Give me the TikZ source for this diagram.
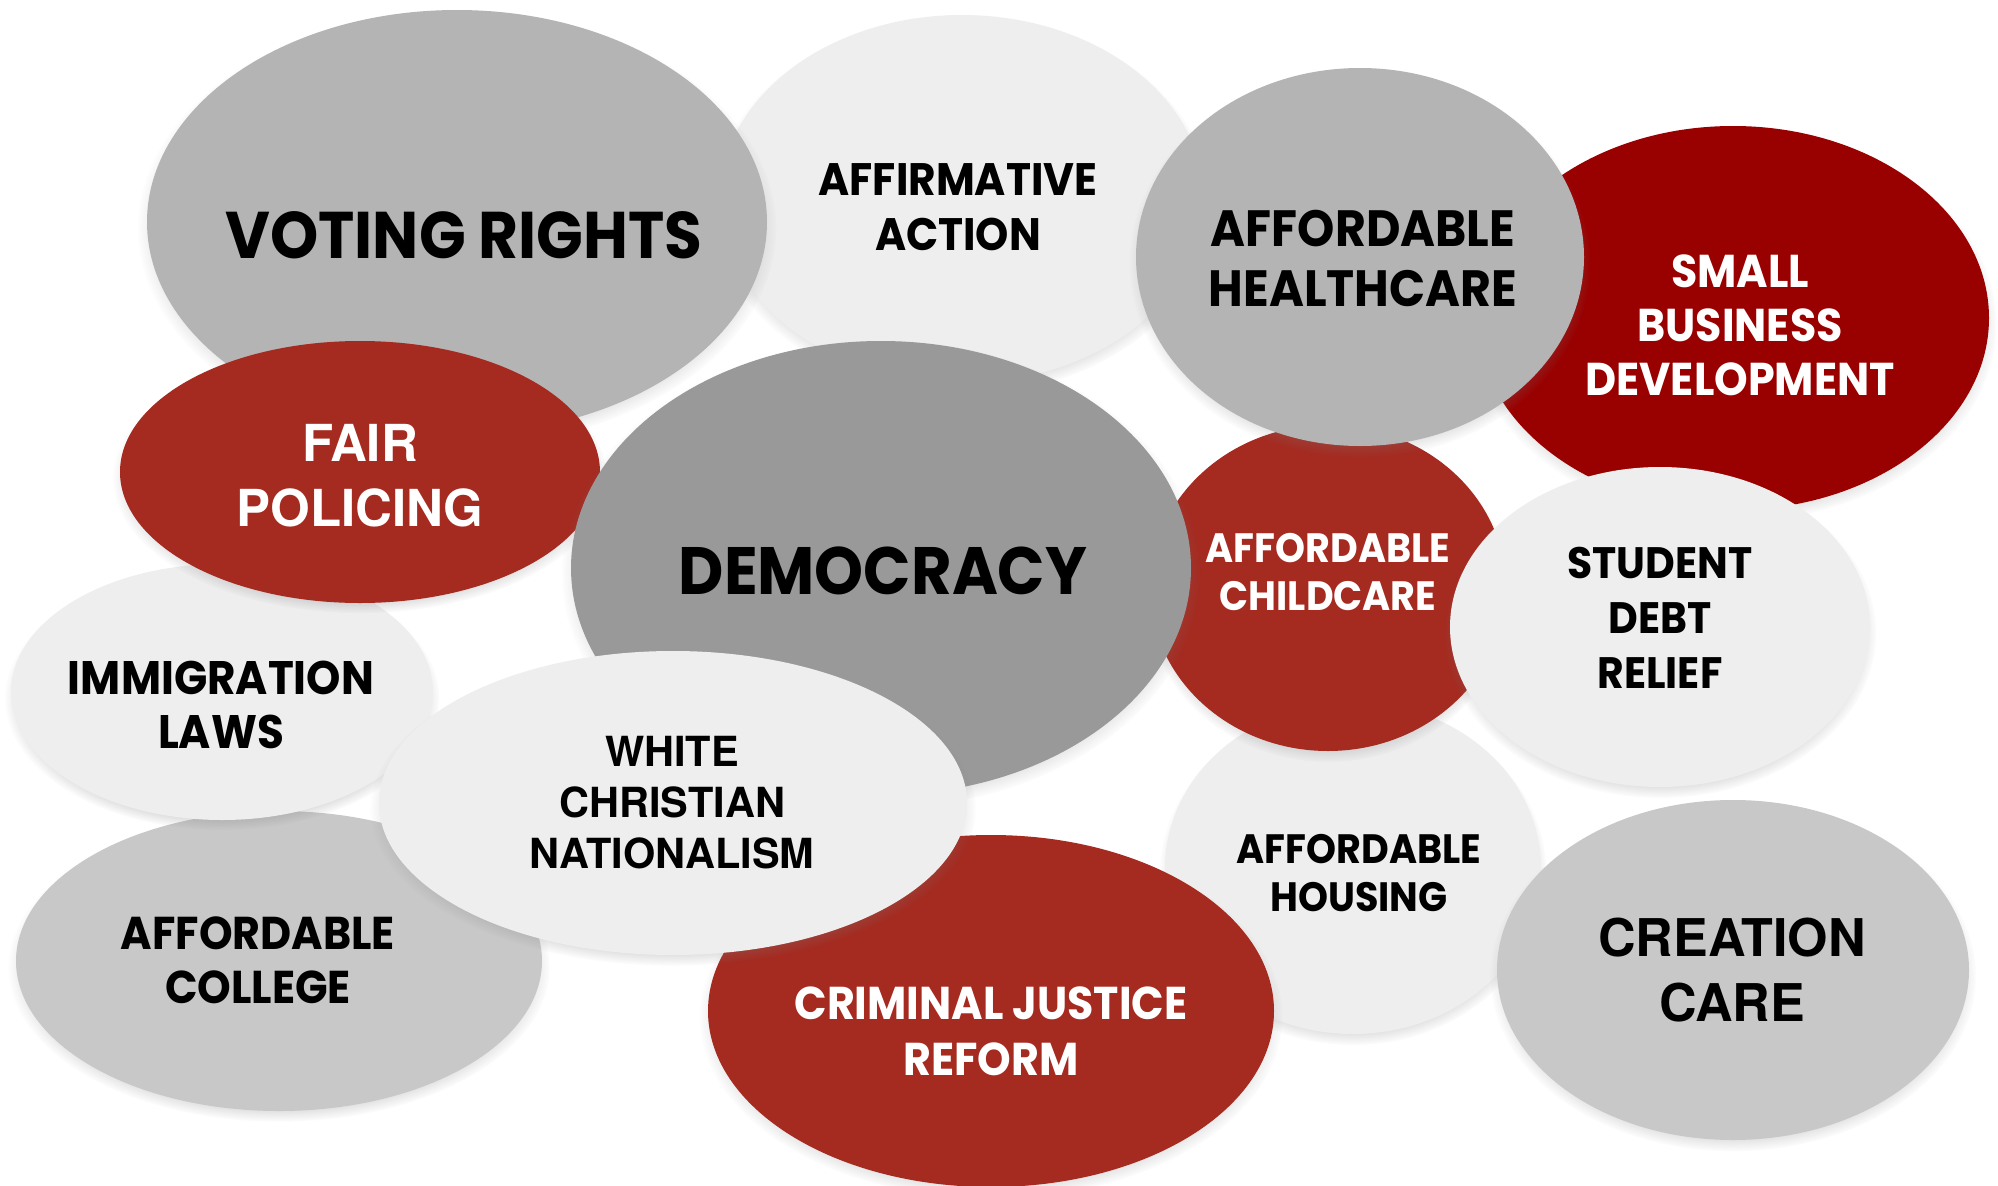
\documentclass[tikz,border=0pt]{standalone}
\usepackage{fontspec}
\setmainfont{Poppins}[FakeStretch=0.93]
\newfontfamily\arialfont{TeX Gyre Heros}
\usetikzlibrary{shapes.geometric,shadows}

\definecolor{grayA}{HTML}{B4B4B4}
\definecolor{grayB}{HTML}{999999}
\definecolor{grayC}{HTML}{C8C8C8}
\definecolor{grayL}{HTML}{EEEEEE}
\definecolor{redA}{HTML}{A52A20}
\definecolor{redD}{HTML}{990000}

\newcommand{\bubsize}[2]{\fontsize{#1}{#2}\selectfont}

\begin{document}
\begin{tikzpicture}[x=1pt, y=-1pt,
  bubble/.style={ellipse, inner sep=0pt, outer sep=0pt,
    circular drop shadow={shadow xshift=0pt, shadow yshift=-6pt,
      shadow scale=1.03, opacity=0.45}},
  dark/.style={text=black, align=center},
  light/.style={text=white, align=center}]

  \fill[white] (0, 0) rectangle (1998, 1186);
  \useasboundingbox (0, 0) rectangle (1998, 1186);

  \node[bubble, fill=grayL, minimum width=376, minimum height=332] (housing) at (1353, 868) {};
  \node[dark, font={\bfseries\bubsize{41}{48}}] (housingT) at (1359, 873) {AFFORDABLE\\HOUSING};

  \node[bubble, fill=grayC, minimum width=526, minimum height=300] (college) at (279, 961) {};
  \node[dark, font={\bfseries\bubsize{46}{54}}] (collegeT) at (258, 960) {AFFORDABLE\\COLLEGE};

  \node[bubble, fill=grayL, minimum width=484, minimum height=368] (affirm) at (962, 199) {};
  \node[dark, font={\bfseries\bubsize{45.5}{55}}] (affirmT) at (958, 207) {AFFIRMATIVE\\ACTION};

  \node[bubble, fill=grayA, minimum width=620, minimum height=424] (vote) at (457, 222) {};
  \node[dark, font={\bfseries\bubsize{66}{70}}] (voteT) at (464, 235) {VOTING RIGHTS};

  \node[bubble, fill=redD, minimum width=512, minimum height=384] (business) at (1733, 318) {};
  \node[light, font={\bfseries\bubsize{46}{54}}] (businessT) at (1740, 325) {SMALL\\BUSINESS\\DEVELOPMENT};

  \node[bubble, fill=redA, minimum width=356, minimum height=326] (child) at (1328, 588) {};
  \node[light, font={\bfseries\bubsize{41}{48}}] (childT) at (1328, 572) {AFFORDABLE\\CHILDCARE};

  \node[bubble, fill=grayA, minimum width=448, minimum height=378] (health) at (1360, 257) {};
  \node[dark, font={\bfseries\bubsize{51}{60}}] (healthT) at (1363, 258) {AFFORDABLE\\HEALTHCARE};

  \node[bubble, fill=grayL, minimum width=420, minimum height=320] (debt) at (1660, 627) {};
  \node[dark, font={\bfseries\bubsize{44}{55}}] (debtT) at (1660, 618) {STUDENT\\DEBT\\RELIEF};

  \node[bubble, fill=grayC, minimum width=472, minimum height=340] (creation) at (1733, 970) {};
  \node[dark, font={\arialfont\bfseries\bubsize{52}{65}}] (creationT) at (1732, 970) {CREATION\\CARE};

  \node[bubble, fill=grayL, minimum width=422, minimum height=256] (immig) at (222, 692) {};
  \node[dark, font={\bfseries\bubsize{47}{54}}] (immigT) at (221, 705) {IMMIGRATION\\LAWS};

  \node[bubble, fill=redA, minimum width=480, minimum height=262] (police) at (360, 472) {};
  \node[light, font={\arialfont\bfseries\bubsize{51}{65}}] (policeT) at (360, 476) {FAIR\\POLICING};

  \node[bubble, fill=grayB, minimum width=620, minimum height=454] (democ) at (881, 568) {};
  \node[dark, font={\bfseries\bubsize{67}{75}}] (democT) at (883, 571) {DEMOCRACY};

  \node[bubble, fill=redA, minimum width=566, minimum height=352] (justice) at (991, 1011) {};
  \node[light, font={\bfseries\bubsize{46}{56}}] (justiceT) at (991, 1031) {CRIMINAL JUSTICE\\REFORM};

  \node[bubble, fill=grayL, minimum width=588, minimum height=304] (whitecn) at (673, 803) {};
  \node[dark, font={\arialfont\bfseries\bubsize{41.5}{51}}] (whitecnT) at (672, 803) {WHITE\\CHRISTIAN\\NATIONALISM};
\end{tikzpicture}
\end{document}
